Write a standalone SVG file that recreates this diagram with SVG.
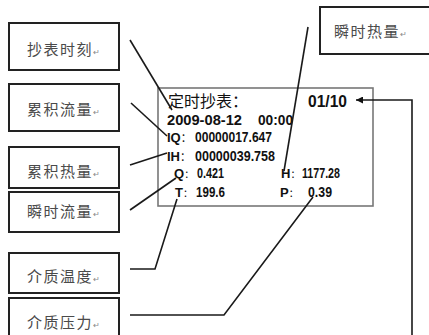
<svg xmlns="http://www.w3.org/2000/svg" width="429" height="335" viewBox="0 0 429 335">
<defs>
<style>
.box{fill:#fff;stroke:#222;stroke-width:2}
.lbl{font-family:"Liberation Sans","Noto Sans CJK SC",sans-serif;font-size:15px;fill:#4a4a4a;letter-spacing:1.5px}
.ret{font-size:8px;fill:#888;letter-spacing:0}
.conn{fill:none;stroke:#1a1a1a;stroke-width:1.6}
.disp{fill:#fff;stroke:#777;stroke-width:1.6}
.t{font-family:"Liberation Sans","Noto Sans CJK SC",sans-serif;fill:#111;font-weight:bold}
.cn{font-family:"Liberation Sans","Noto Sans CJK SC",sans-serif;fill:#111;font-size:16px}
</style>
<marker id="ah" viewBox="0 0 10 10" refX="10" refY="5" markerWidth="11" markerHeight="7" markerUnits="userSpaceOnUse" orient="auto">
<path d="M0,0 L10,5 L0,10 Z" fill="#111"/>
</marker>
</defs>
<rect width="429" height="335" fill="#fff"/>

<g id="display">
<rect class="disp" x="158" y="88" width="215" height="118"/>
<text class="cn" x="168" y="107">定时抄表：</text>
<text class="t" x="308" y="107" font-size="17" textLength="39" lengthAdjust="spacingAndGlyphs">01/10</text>
<text class="t" x="167" y="125" font-size="15" textLength="75" lengthAdjust="spacingAndGlyphs">2009-08-12</text>
<text class="t" x="258" y="125" font-size="15" textLength="35" lengthAdjust="spacingAndGlyphs">00:00</text>
<text class="t" x="167" y="142" font-size="13">IQ<tspan font-weight="normal" font-size="11">：</tspan></text>
<text class="t" x="195" y="142" font-size="14" textLength="77" lengthAdjust="spacingAndGlyphs">00000017.647</text>
<text class="t" x="167" y="161" font-size="13">IH<tspan font-weight="normal" font-size="11">：</tspan></text>
<text class="t" x="195" y="161" font-size="14" textLength="80" lengthAdjust="spacingAndGlyphs">00000039.758</text>
<text class="t" x="174" y="178" font-size="13">Q<tspan font-weight="normal" font-size="10">：</tspan></text>
<text class="t" x="197" y="178" font-size="14" textLength="27" lengthAdjust="spacingAndGlyphs">0.421</text>
<text class="t" x="281" y="178" font-size="13">H<tspan font-weight="normal" font-size="10">：</tspan></text>
<text class="t" x="302" y="178" font-size="14" textLength="38" lengthAdjust="spacingAndGlyphs">1177.28</text>
<text class="t" x="175" y="197" font-size="13">T<tspan font-weight="normal" font-size="10">：</tspan></text>
<text class="t" x="196" y="197" font-size="14" textLength="29" lengthAdjust="spacingAndGlyphs">199.6</text>
<text class="t" x="280" y="197" font-size="13">P<tspan font-weight="normal" font-size="10">：</tspan></text>
<text class="t" x="308" y="197" font-size="14" textLength="24" lengthAdjust="spacingAndGlyphs">0.39</text>
</g>

<g id="n1"><rect class="box" x="9" y="23" width="110" height="47"/><text class="lbl" x="27" y="55">抄表时刻<tspan class="ret">↵</tspan></text></g>
<g id="n2"><rect class="box" x="9" y="84" width="110" height="47"/><text class="lbl" x="27" y="115">累积流量<tspan class="ret">↵</tspan></text></g>
<g id="n3"><rect class="box" x="9" y="147" width="110" height="41"/><text class="lbl" x="27" y="177">累积热量<tspan class="ret">↵</tspan></text></g>
<g id="n4"><rect class="box" x="9" y="192" width="110" height="40"/><text class="lbl" x="27" y="217">瞬时流量<tspan class="ret">↵</tspan></text></g>
<g id="n5"><rect class="box" x="9" y="253" width="110" height="40"/><text class="lbl" x="27" y="282">介质温度<tspan class="ret">↵</tspan></text></g>
<g id="n6"><rect class="box" x="9" y="298" width="110" height="45"/><text class="lbl" x="27" y="328">介质压力<tspan class="ret">↵</tspan></text></g>
<g id="n7"><rect class="box" x="320" y="7" width="110" height="47"/><text class="lbl" x="334" y="37">瞬时热量<tspan class="ret">↵</tspan></text></g>

<g id="connectors">
<path class="conn" d="M130,40 L172,110"/>
<path class="conn" d="M131,103 L167,136"/>
<path class="conn" d="M130,165 L167,153"/>
<path class="conn" d="M130,210 L176,178"/>
<path class="conn" d="M130,269 L155,269 L177,199"/>
<path class="conn" d="M130,315 L224,315 L313,197"/>
<path class="conn" d="M308,27 L284,171"/>
<path class="conn" d="M412,335 L412,100 L356,100" marker-end="url(#ah)"/>
</g>
</svg>
